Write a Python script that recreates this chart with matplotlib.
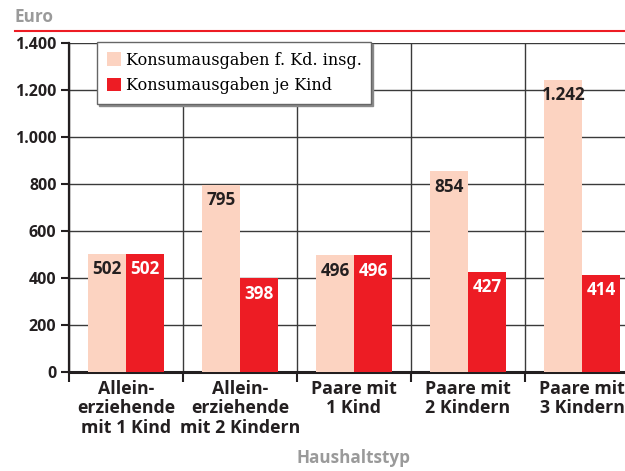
import numpy as np
import matplotlib.pyplot as plt

# Haushaltstypen and monthly consumption spending (Euro)
categories = ["Allein-\nerziehende\nmit 1 Kind", "Allein-\nerziehende\nmit 2 Kindern",
              "Paare mit\n1 Kind", "Paare mit\n2 Kindern", "Paare mit\n3 Kindern"]
total_children = [502, 795, 496, 854, 1242]
per_child = [502, 398, 496, 427, 414]
series_labels = ["Konsumausgaben f. Kd. insg.", "Konsumausgaben je Kind"]
y_ticks = [0, 200, 400, 600, 800, 1000, 1200, 1400]

PINK = "#fcd3c1"
RED = "#ed1c24"
GREY = "#9a9a9a"
INK = "#231f20"
SANS = "Open Sans"


def de_num(v):
    return f"{v:,}".replace(",", ".")


fig = plt.figure(figsize=(6.25, 4.71), dpi=100)
ax = fig.add_axes([69 / 625, 1 - 372 / 471, 570 / 625, 329 / 471])

x = np.arange(len(categories))
w = 0.335
b1 = ax.bar(x - w / 2, total_children, w, color=PINK, zorder=3, label=series_labels[0])
b2 = ax.bar(x + w / 2, per_child, w, color=RED, zorder=3, label=series_labels[1])

for rect, v in zip(b1, total_children):
    ax.annotate(de_num(v), (rect.get_x() + rect.get_width() / 2, v),
                xytext=(0, -11), textcoords="offset points", ha="center", va="center",
                fontsize=12.3, fontweight="bold", family=SANS, color=INK, zorder=4)
for rect, v in zip(b2, per_child):
    ax.annotate(de_num(v), (rect.get_x() + rect.get_width() / 2, v),
                xytext=(0, -11), textcoords="offset points", ha="center", va="center",
                fontsize=12.3, fontweight="bold", family=SANS, color="white", zorder=4)

ax.set_xlim(-0.5, len(categories) - 0.5)
ax.set_ylim(0, 1400)

# group borders carry the vertical grid; labels sit on minor ticks
ax.set_xticks(np.arange(-0.5, len(categories), 1.0))
ax.set_xticklabels([])
ax.set_xticks(x, minor=True)
ax.set_xticklabels(categories, minor=True, fontsize=12.8, fontweight="bold",
                   family=SANS, color=INK, linespacing=1.08)
ax.tick_params(axis="x", which="minor", length=0, pad=6)
ax.tick_params(axis="x", which="major", length=7, width=1.5, color=INK, direction="out")

ax.set_yticks(y_ticks)
ax.set_yticklabels([de_num(t) for t in y_ticks], fontsize=11.5, fontweight="bold",
                   family=SANS, color=INK)
ax.tick_params(axis="y", length=6, width=1.5, color=INK, pad=3)

ax.grid(True, which="major", color="#3a3a3a", linewidth=1.0, zorder=0)
ax.set_axisbelow(True)

for side in ("top", "right"):
    ax.spines[side].set_visible(False)
ax.spines["left"].set_linewidth(1.6)
ax.spines["left"].set_color(INK)
ax.spines["bottom"].set_linewidth(2.2)
ax.spines["bottom"].set_color(INK)

leg = ax.legend(loc="upper left", bbox_to_anchor=(28 / 570, 1.003), borderaxespad=0,
                prop={"family": "DejaVu Serif", "size": 11.5},
                frameon=True, fancybox=False, borderpad=0.6, labelspacing=0.55,
                handlelength=0.9, handleheight=0.9, handletextpad=0.3,
                shadow={"ox": 1.5, "oy": -1.5, "color": "#8a8a8a", "alpha": 1})
leg.get_frame().set_edgecolor("#666666")
leg.get_frame().set_linewidth(1.0)
leg.set_zorder(5)

# header with red rule, footer with axis title
fig.text(15 / 625, 1 - 17 / 471, "Euro", ha="left", va="center", fontsize=12.3,
         fontweight="bold", family=SANS, color=GREY)
fig.add_artist(plt.Line2D([15 / 625, 1.0], [1 - 31 / 471] * 2, color=RED, linewidth=1.5))
fig.text(354 / 625, 1 - 458 / 471, "Haushaltstyp", ha="center", va="center",
         fontsize=12.3, fontweight="bold", family=SANS, color=GREY)

fig.savefig("out.png", dpi=100)
